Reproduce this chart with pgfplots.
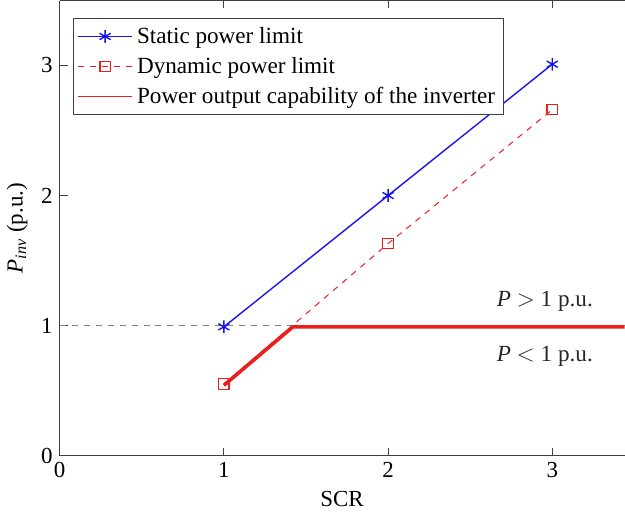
\documentclass[border=0pt]{standalone}
\usepackage{fontspec}
\setmainfont{Liberation Serif}
\usepackage{pgfplots}
\pgfplotsset{compat=1.18}

\definecolor{limblue}{RGB}{20,20,235}
\definecolor{limred}{RGB}{235,30,30}

\begin{document}
\begin{tikzpicture}
\begin{axis}[
  scale only axis,
  width=283pt, height=228pt,
  xmin=0, xmax=3.44, ymin=0, ymax=3.5,
  axis x line=box, axis y line*=left,
  y axis line style={-},
  axis line style={black!75, line width=0.5pt},
  tick align=inside,
  major tick length=4pt,
  tick style={black!75, line width=0.5pt},
  xtick={0,1,2,3}, ytick={0,1,2,3},
  /pgf/number format/assume math mode=true,
  ticklabel style={font=\fontsize{11.5}{13}\selectfont},
  xlabel={SCR},
  ylabel={\textit{P}\textsubscript{\textit{inv}} (p.u.)},
  label style={font=\fontsize{11.5}{13}\selectfont},
  legend style={at={(rel axis cs:0,1)}, anchor=north west,
    xshift=6.5pt, yshift=-9pt,
    draw=black!75, line width=0.5pt, font=\fontsize{11.6}{13}\selectfont,
    inner sep=2pt, row sep=1.5pt},
  legend cell align=left,
  legend image code/.code={
    \draw[mark repeat=2,mark phase=2] plot coordinates {(0cm,0cm) (0.48cm,0cm) (0.96cm,0cm)};},
]
% reference level at 1 p.u.
\addplot[gray, dashed, line width=0.7pt, forget plot] coordinates {(0,1) (3.44,1)};

\addplot[limblue, line width=0.7pt, mark=asterisk, mark size=3.2pt,
  mark options={solid, line width=0.7pt}]
  coordinates {(1,0.99) (2,2.00) (3,3.01)};
\addlegendentry{Static power limit}

\addplot[limred, dashed, line width=0.5pt, mark=square, mark size=2.6pt,
  mark options={solid, line width=0.6pt}]
  coordinates {(1,0.55) (2,1.63) (3,2.66)};
\addlegendentry{Dynamic power limit}

\addplot[limred, line width=1.8pt, line join=round,
  legend image post style={line width=0.7pt}]
  coordinates {(1,0.54) (1.42,0.99) (3.44,0.99)};
\addlegendentry{Power output capability of the inverter}

\node[anchor=east, font=\fontsize{11.6}{13}\selectfont, text=black!85] at (axis cs:3.29,1.19) {\textit{P} $>$ 1 p.u.};
\node[anchor=east, font=\fontsize{11.6}{13}\selectfont, text=black!85] at (axis cs:3.29,0.76) {\textit{P} $<$ 1 p.u.};
\end{axis}
\end{tikzpicture}
\end{document}
